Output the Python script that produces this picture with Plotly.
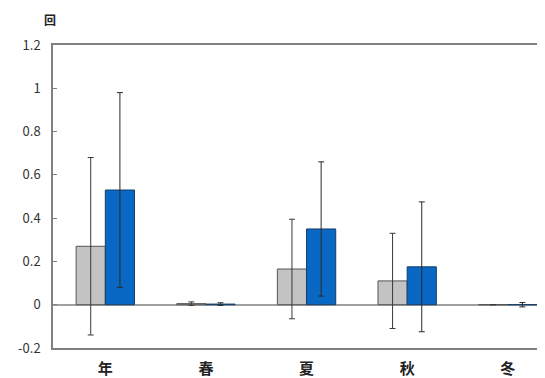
import plotly.graph_objects as go

categories = ["年", "春", "夏", "秋", "冬"]
gray_vals = [0.27, 0.005, 0.165, 0.11, 0.0]
gray_err = [0.41, 0.008, 0.23, 0.22, 0.0]
blue_vals = [0.53, 0.003, 0.35, 0.175, 0.0]
blue_err = [0.45, 0.006, 0.31, 0.30, 0.01]
y_ticks = [-0.2, 0, 0.2, 0.4, 0.6, 0.8, 1, 1.2]
y_tick_text = ["-0.2", "0", "0.2", "0.4", "0.6", "0.8", "1", "1.2"]

font = "Noto Sans CJK JP"

fig = go.Figure()
fig.add_trace(go.Bar(
    x=categories, y=gray_vals,
    marker=dict(color="#c3c3c3", line=dict(color="#555555", width=1)),
    error_y=dict(type="data", array=gray_err, color="#3a3a3a", thickness=1, width=3),
))
fig.add_trace(go.Bar(
    x=categories, y=blue_vals,
    marker=dict(color="#0868c4", line=dict(color="#163f6a", width=1)),
    error_y=dict(type="data", array=blue_err, color="#2a2a2a", thickness=1, width=3),
))

# page body has an 8px default margin, so the figure is sized to fit inside
fig.update_layout(
    width=537, height=370,
    margin=dict(l=45, r=0, t=37, b=30, autoexpand=False),
    paper_bgcolor="white", plot_bgcolor="white",
    barmode="group", bargap=0.42, bargroupgap=0,
    showlegend=False,
    font=dict(family=font, color="#333333"),
    annotations=[dict(text="<b>回</b>", xref="paper", yref="paper", x=-0.006, y=1.083,
                      xanchor="center", yanchor="middle",
                      showarrow=False, font=dict(size=12, family=font, color="#222222"))],
)

fig.update_xaxes(
    range=[-0.52, 4.37], showline=True, linecolor="#808080", linewidth=1.5,
    mirror=True, ticks="", showgrid=False, automargin=False,
    tickvals=categories, ticktext=["<b>" + c + "</b>" for c in categories],
    tickfont=dict(size=15, family=font, color="#222222"),
    ticklabelstandoff=6,
)
fig.update_yaxes(
    range=[-0.2, 1.2], tickvals=y_ticks, ticktext=y_tick_text,
    showline=True, linecolor="#808080", linewidth=1.5, mirror=True,
    ticks="inside", ticklen=4, tickcolor="#808080", automargin=False,
    showgrid=False, zeroline=True, zerolinecolor="#a0a0a0", zerolinewidth=1.5,
    tickfont=dict(size=13, family=font, color="#333333"),
    ticklabelstandoff=8,
)

fig.write_html("out.html")
